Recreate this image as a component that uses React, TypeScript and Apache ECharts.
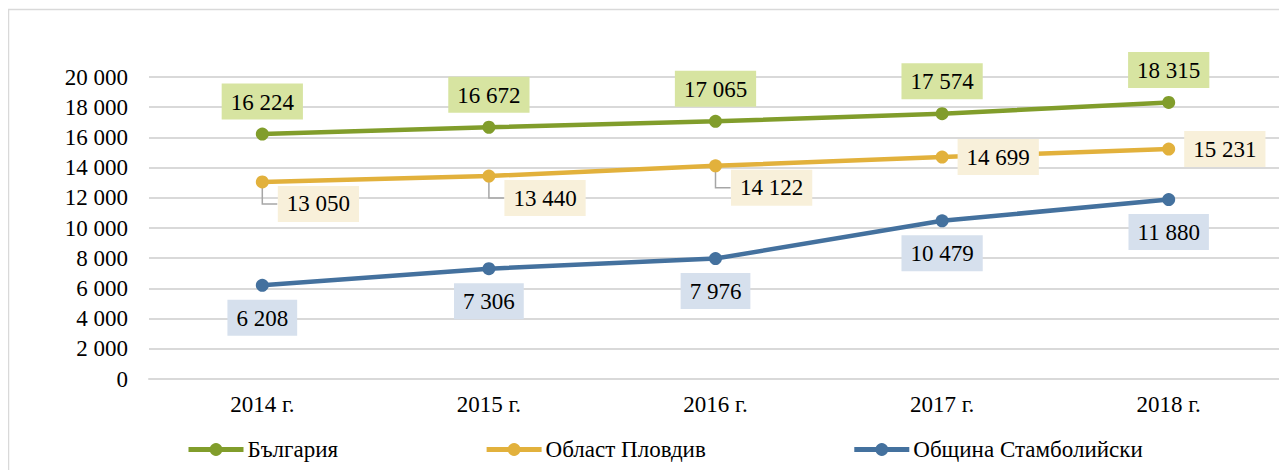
import React, { useEffect, useRef } from "react";
import * as echarts from "echarts";

const categories = ["2014 г.", "2015 г.", "2016 г.", "2017 г.", "2018 г."];
const bulgaria = [16224, 16672, 17065, 17574, 18315];
const plovdiv = [13050, 13440, 14122, 14699, 15231];
const stamboliyski = [6208, 7306, 7976, 10479, 11880];
const seriesNames = ["България", "Област Пловдив", "Община Стамболийски"];
// Plovdiv labels that are moved below-right with a leader line
const leaderIdx = [0, 1, 2];

const FONT = "Liberation Serif";
const fmt = (v: number) => String(v).replace(/\B(?=(\d{3})+(?!\d))/g, " ");

export default function App() {
  const ref = useRef<HTMLDivElement>(null);
  useEffect(() => {
    if (!ref.current) return;
    const chart = echarts.init(ref.current, undefined, { renderer: "svg" });
    const labelBase = {
      show: true,
      fontFamily: FONT,
      fontSize: 23,
      lineHeight: 23,
      color: "#000",
      padding: [7, 9, 6, 9],
      formatter: (p: any) => fmt(p.value as number),
    };
    const LEADER_DY = 22;
    chart.setOption({
      animation: false,
      textStyle: { fontFamily: FONT },
      graphic: [
        {
          type: "rect",
          shape: { x: 0.5, y: 1.5, width: 1400, height: 600 },
          style: { fill: "none", stroke: "#d9d9d9", lineWidth: 1.5 },
          silent: true,
          z: -10,
        },
      ],
      grid: { left: 141, right: 5, top: 69, bottom: 91, containLabel: false },
      legend: {
        data: seriesNames,
        left: 173,
        top: 425,
        itemWidth: 55,
        itemHeight: 16,
        itemGap: 146,
        lineStyle: { width: 5 },
        textStyle: { fontFamily: FONT, fontSize: 23, color: "#000", padding: [0, 0, 0, -1] },
      },
      xAxis: {
        type: "category",
        data: categories,
        boundaryGap: true,
        axisLine: { show: true, lineStyle: { color: "#d9d9d9", width: 2 } },
        axisTick: { show: false },
        axisLabel: { fontFamily: FONT, fontSize: 23, color: "#000", margin: 14 },
      },
      yAxis: {
        type: "value",
        min: 0,
        max: 20000,
        interval: 2000,
        axisLine: { show: false },
        axisTick: { show: false },
        splitLine: { lineStyle: { color: "#d9d9d9", width: 2 } },
        axisLabel: {
          fontFamily: FONT,
          fontSize: 23,
          color: "#000",
          margin: 21,
          formatter: (v: number) => fmt(v),
        },
      },
      series: [
        {
          type: "custom",
          name: "leaders",
          z: 1,
          silent: true,
          data: leaderIdx.map((i) => [i, plovdiv[i]]),
          renderItem: (params: any, api: any) => {
            const pt = api.coord([api.value(0), api.value(1)]);
            return {
              type: "polyline",
              shape: {
                points: [
                  [pt[0], pt[1]],
                  [pt[0], pt[1] + LEADER_DY],
                  [pt[0] + 15, pt[1] + LEADER_DY],
                ],
              },
              style: { stroke: "#a6a6a6", lineWidth: 1.5, fill: "none" },
            };
          },
        },
        {
          type: "line",
          name: seriesNames[0],
          data: bulgaria,
          z: 3,
          color: "#819d2b",
          symbol: "circle",
          symbolSize: 13,
          lineStyle: { width: 4.5, color: "#819d2b" },
          itemStyle: { color: "#819d2b" },
          label: { ...labelBase, position: "top", distance: 8, backgroundColor: "#d7e4a1" },
        },
        {
          type: "line",
          name: seriesNames[1],
          z: 3,
          color: "#e2b13c",
          data: plovdiv.map((v, i) =>
            leaderIdx.includes(i)
              ? { value: v, label: { offset: [0, LEADER_DY] } }
              : { value: v }
          ),
          symbol: "circle",
          symbolSize: 13,
          lineStyle: { width: 4.5, color: "#e2b13c" },
          itemStyle: { color: "#e2b13c" },
          label: { ...labelBase, position: "right", distance: 9, backgroundColor: "#f8f0da" },
        },
        {
          type: "line",
          name: seriesNames[2],
          z: 3,
          color: "#44719e",
          data: stamboliyski,
          symbol: "circle",
          symbolSize: 13,
          lineStyle: { width: 4.5, color: "#44719e" },
          itemStyle: { color: "#44719e" },
          label: { ...labelBase, position: "bottom", distance: 8, backgroundColor: "#d6e0ed" },
        },
      ],
    });
    return () => chart.dispose();
  }, []);
  return <div ref={ref} style={{ width: 1279, height: 462 }} />;
}
